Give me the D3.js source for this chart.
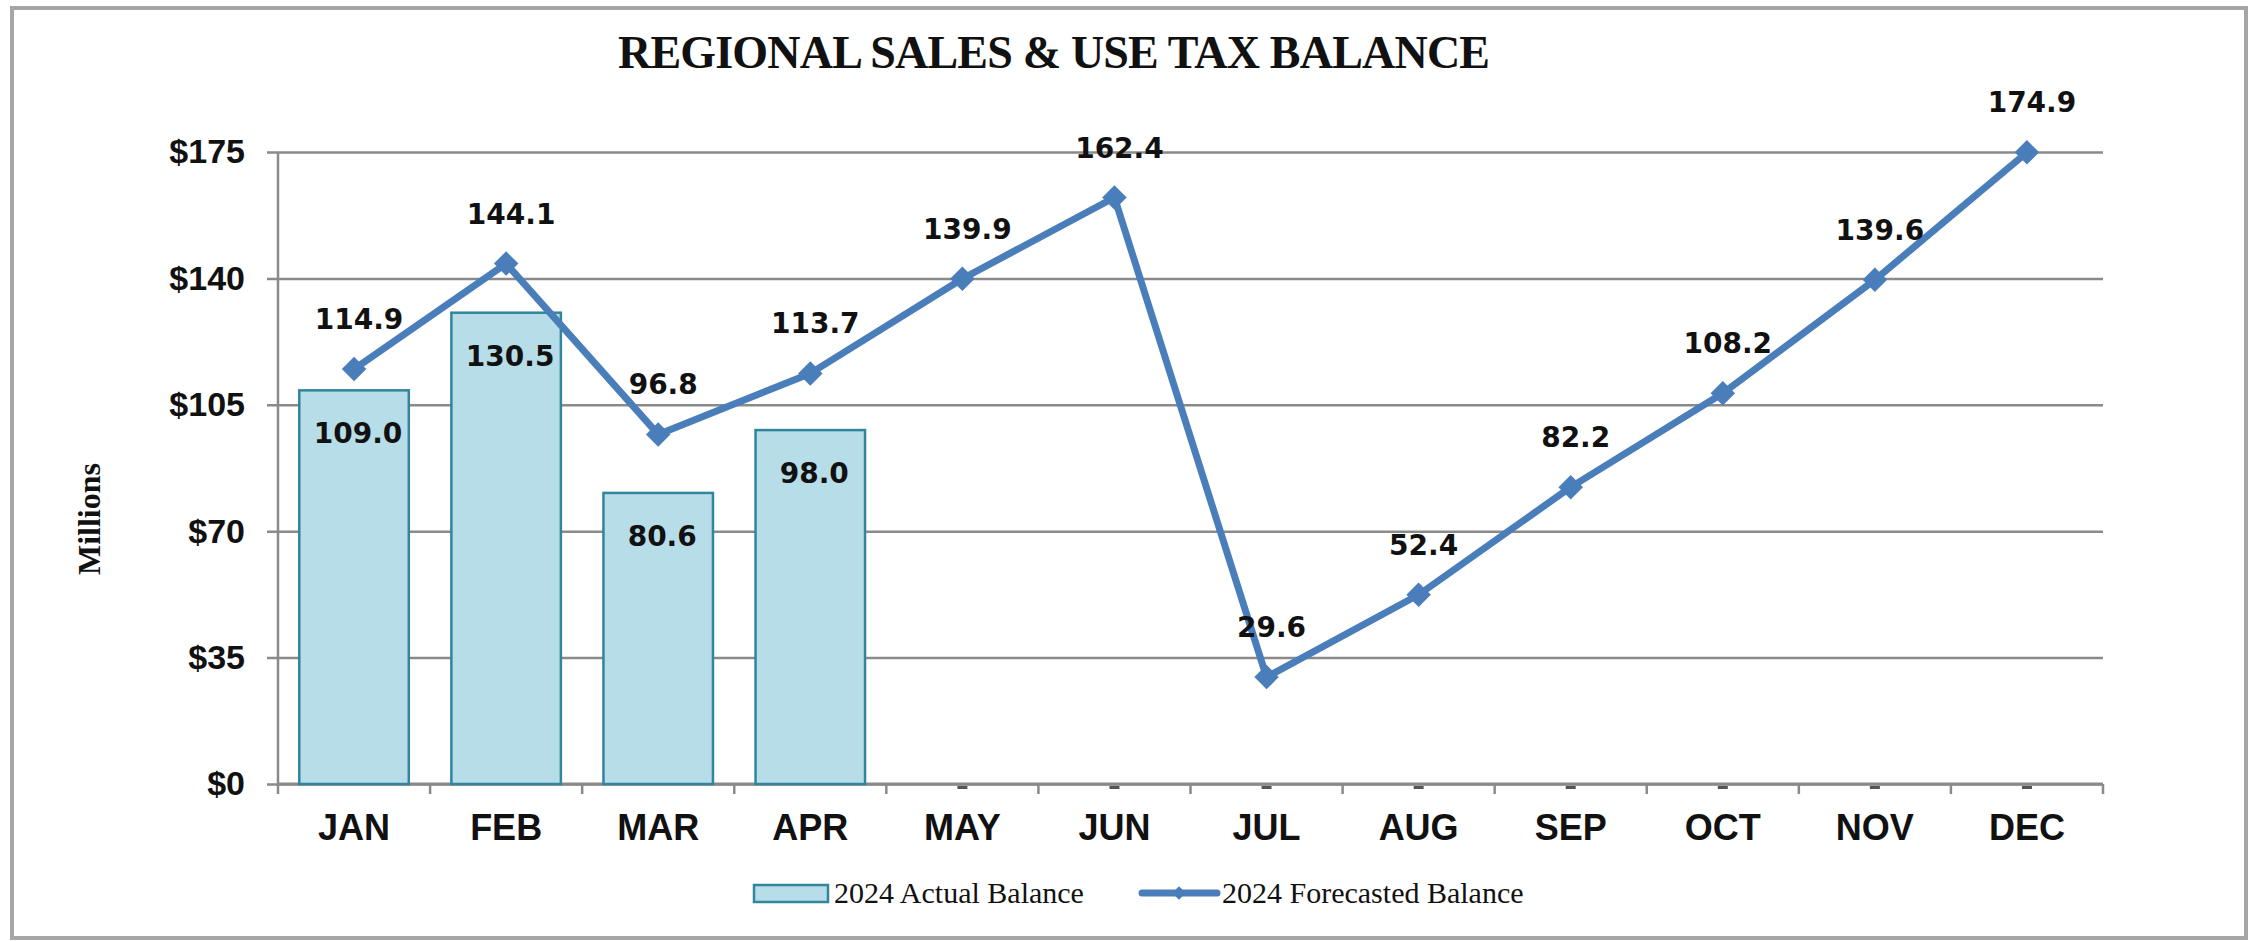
<!DOCTYPE html>
<html lang="en">
<head>
  <meta charset="UTF-8">
  <title>Regional Sales & Use Tax Balance</title>
  <script src="https://d3js.org/d3.v7.min.js"></script>
  <style>
    body {
      margin: 0;
      background: #fff;
    }
    .tick-label {
      font-family: "Liberation Sans", Arial, sans-serif;
      font-weight: bold;
      fill: #111;
    }
    .value-label {
      font-family: "DejaVu Sans", sans-serif;
      font-weight: bold;
      font-size: 28px;
      fill: #111;
    }
    .serif {
      font-family: "Liberation Serif", "Times New Roman", serif;
      fill: #111;
    }
  </style>
</head>
<body>
<svg width="2259" height="941"></svg>

<script>
const months = ["JAN", "FEB", "MAR", "APR", "MAY", "JUN", "JUL", "AUG", "SEP", "OCT", "NOV", "DEC"];
const actual = [109.0, 130.5, 80.6, 98.0];
const forecast = [114.9, 144.1, 96.8, 113.7, 139.9, 162.4, 29.6, 52.4, 82.2, 108.2, 139.6, 174.9];
const yTicks = [0, 35, 70, 105, 140, 175];

const svg = d3.select("svg");
const margin = { top: 152, right: 156, bottom: 157, left: 278 };
const width = 2259 - margin.left - margin.right,
      height = 941 - margin.top - margin.bottom;

// outer frame
svg.append("rect")
  .attr("x", 12).attr("y", 8)
  .attr("width", 2234).attr("height", 930)
  .attr("fill", "none")
  .attr("stroke", "#a6a6a6")
  .attr("stroke-width", 4);

const g = svg.append("g").attr("transform", `translate(${margin.left},${margin.top})`);

const x = d3.scaleBand().domain(months).range([0, width]).paddingInner(0.28).paddingOuter(0.14);
const y = d3.scaleLinear().domain([0, 175]).range([height, 0]);
const cx = m => x(m) + x.bandwidth() / 2;

// gridlines + y axis
const yAxis = g.append("g")
  .call(d3.axisLeft(y).tickValues(yTicks).tickSize(-width).tickSizeOuter(0).tickPadding(33).tickFormat(d => "$" + d));
yAxis.select(".domain").remove();
yAxis.selectAll(".tick line")
  .attr("stroke", "#8a8a8a").attr("stroke-width", 2.5)
  .attr("x1", -11);
yAxis.selectAll(".tick text")
  .attr("class", "tick-label")
  .style("font-size", "34px");

g.append("line")
  .attr("x1", 0).attr("x2", 0).attr("y1", 0).attr("y2", height)
  .attr("stroke", "#8a8a8a").attr("stroke-width", 2.5);

// x axis with ticks between categories
const step = width / months.length;
g.append("line")
  .attr("x1", 0).attr("x2", width).attr("y1", height).attr("y2", height)
  .attr("stroke", "#8a8a8a").attr("stroke-width", 3);
g.selectAll(".xtick")
  .data(d3.range(months.length + 1))
  .enter().append("line")
  .attr("x1", i => i * step).attr("x2", i => i * step)
  .attr("y1", height).attr("y2", height + 10)
  .attr("stroke", "#8a8a8a").attr("stroke-width", 2.5);

g.selectAll(".xlabel")
  .data(months)
  .enter().append("text")
  .attr("class", "tick-label")
  .attr("x", d => cx(d))
  .attr("y", height + 56)
  .attr("text-anchor", "middle")
  .style("font-size", "36px")
  .text(d => d);

// small stubs where empty actual months sit on the axis
g.selectAll(".stub")
  .data(months.slice(actual.length))
  .enter().append("rect")
  .attr("x", d => cx(d) - 5)
  .attr("y", height + 2)
  .attr("width", 10).attr("height", 3)
  .attr("fill", "#555");

// bars
g.selectAll(".bar")
  .data(actual)
  .enter().append("rect")
  .attr("x", (d, i) => x(months[i]))
  .attr("y", d => y(d))
  .attr("width", x.bandwidth())
  .attr("height", d => height - y(d))
  .attr("fill", "#b7dde8")
  .attr("stroke", "#31859c")
  .attr("stroke-width", 2.5);

g.selectAll(".bar-label")
  .data(actual)
  .enter().append("text")
  .attr("class", "value-label")
  .attr("x", (d, i) => cx(months[i]) + 4)
  .attr("y", d => y(d) + 53)
  .attr("text-anchor", "middle")
  .text(d => d.toFixed(1));

// forecast line
const line = d3.line()
  .x((d, i) => cx(months[i]))
  .y(d => y(d));

g.append("path")
  .datum(forecast)
  .attr("d", line)
  .attr("fill", "none")
  .attr("stroke", "#4a7ebb")
  .attr("stroke-width", 7)
  .attr("stroke-linejoin", "round");

const diamond = d3.symbol(d3.symbolSquare, 300);
g.selectAll(".marker")
  .data(forecast)
  .enter().append("path")
  .attr("d", diamond)
  .attr("transform", (d, i) => `translate(${cx(months[i])},${y(d)}) rotate(45)`)
  .attr("fill", "#4a7ebb");

g.selectAll(".line-label")
  .data(forecast)
  .enter().append("text")
  .attr("class", "value-label")
  .attr("x", (d, i) => cx(months[i]) + 5)
  .attr("y", d => y(d) - 40)
  .attr("text-anchor", "middle")
  .text(d => d.toFixed(1));

// title
svg.append("text")
  .attr("class", "serif")
  .attr("x", 1054)
  .attr("y", 68)
  .attr("text-anchor", "middle")
  .attr("textLength", 872)
  .style("font-size", "46px")
  .style("font-weight", "bold")
  .text("REGIONAL SALES & USE TAX BALANCE");

// y axis title
svg.append("text")
  .attr("class", "serif")
  .attr("transform", "translate(100,519) rotate(-90)")
  .attr("text-anchor", "middle")
  .style("font-size", "32px")
  .style("font-weight", "bold")
  .text("Millions");

// legend
const legend = svg.append("g");
legend.append("rect")
  .attr("x", 754).attr("y", 885)
  .attr("width", 74).attr("height", 17)
  .attr("fill", "#b7dde8")
  .attr("stroke", "#31859c")
  .attr("stroke-width", 2.5);
legend.append("text")
  .attr("class", "serif")
  .attr("x", 834).attr("y", 903)
  .style("font-size", "30px")
  .text("2024 Actual Balance");

legend.append("line")
  .attr("x1", 1142).attr("x2", 1217)
  .attr("y1", 893).attr("y2", 893)
  .attr("stroke", "#4a7ebb")
  .attr("stroke-width", 7)
  .attr("stroke-linecap", "round");
legend.append("path")
  .attr("d", d3.symbol(d3.symbolSquare, 90))
  .attr("transform", "translate(1179,893) rotate(45)")
  .attr("fill", "#4a7ebb");
legend.append("text")
  .attr("class", "serif")
  .attr("x", 1222).attr("y", 903)
  .style("font-size", "30px")
  .text("2024 Forecasted Balance");
</script>
</body>
</html>
